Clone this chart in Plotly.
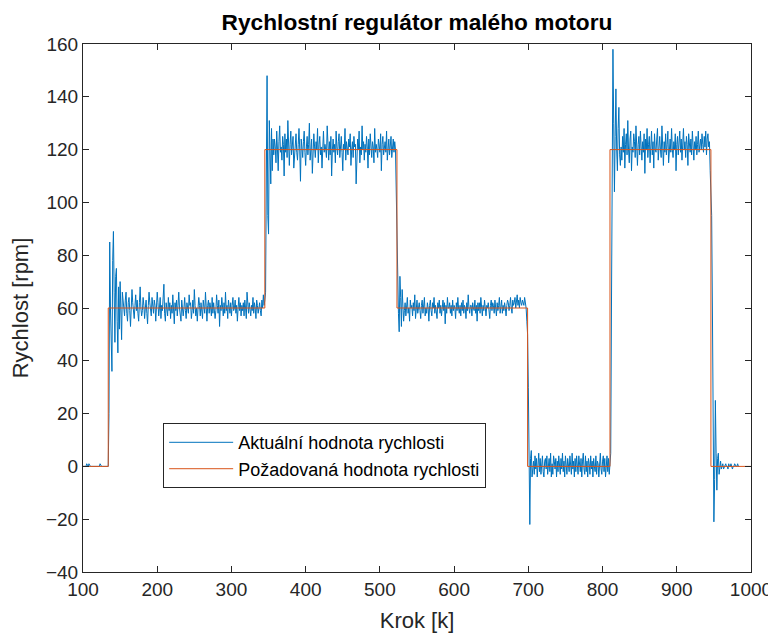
import plotly.graph_objects as go

# ---- data (one value per step) ----
# each segment: first step and the values that follow, one per step
usek_0a_start = 100
usek_0a = [0, 0, 0, 0, 0, 1, 0, 0, 1, 0, 0, 0, 0, 0, 0, 0, 0, 0, 0, 0,
           0, 0, 0, 1, 0, 0, 0, 0, 0, 0, 0, 0, 0, 0, 0]

usek_60a_start = 135
usek_60a = [20, 85, 60, 40, 36, 78, 89, 66, 47, 72, 75, 55, 43, 68, 52, 70, 58, 48, 66, 62,
            61, 57, 63, 66, 58, 55, 62, 64, 59, 53,
            60, 67, 62, 57, 56, 61, 65, 59, 63, 58,
            55, 62, 68, 60, 57, 59, 64, 61, 56, 60,
            63, 58, 54, 61, 66, 62, 59, 57, 64, 60,
            58, 63, 61, 55, 59, 66, 62, 57, 60, 64,
            56, 61, 59, 63, 69, 58, 55, 62, 60, 57,
            64, 59, 62, 56, 61, 58, 65, 60, 54, 62,
            59, 63, 57, 61, 66, 60, 58, 55, 63, 61,
            57, 60, 64, 59, 56, 62, 60, 58, 65, 61,
            62, 56, 59, 63, 58, 67, 61, 57, 60, 55,
            60, 64, 61, 57, 62, 59, 56, 63, 60, 58,
            66, 59, 55, 61, 63, 58, 62, 60, 57, 64,
            58, 62, 60, 56, 59, 65, 61, 58, 63, 53,
            61, 59, 64, 60, 57, 62, 58, 66, 59, 61,
            56, 63, 60, 58, 62, 57, 61, 64, 59, 60,
            63, 58, 61, 55, 60, 64, 59, 62, 57, 61,
            59, 62, 57, 63, 60, 56, 66, 61, 58, 62,
            60, 57, 61, 59, 64, 58, 62, 60, 56, 63,
            61, 58, 60, 62, 59, 57, 63, 60, 65, 61]

usek_120a_start = 345
usek_120a = [63, 66, 110, 148, 95, 88, 131, 115, 107, 128, 112, 124,
             118, 124, 121, 115, 127, 120, 112, 123, 129, 119,
             121, 116, 125, 122, 110, 126, 119, 124, 117, 131,
             120, 114, 122, 127, 118, 121, 125, 113, 119, 123,
             126, 119, 116, 122, 128, 120, 108, 124, 121, 117,
             123, 127, 119, 114, 121, 125, 118, 122, 130, 116,
             120, 124, 111, 119, 126, 121, 117, 123, 120, 128,
             115, 122, 125, 118, 121, 113, 124, 127, 119, 122,
             120, 117, 129, 121, 116, 123, 118, 125, 110, 120,
             124, 119, 122, 115, 127, 121, 118, 123, 126, 117,
             121, 125, 119, 112, 122, 120, 128, 116, 123, 119,
             118, 124, 121, 126, 114, 120, 123, 117, 125, 121,
             122, 107, 119, 124, 120, 127, 115, 121, 118, 129,
             120, 123, 116, 122, 119, 125, 121, 113, 124, 118,
             126, 120, 117, 123, 121, 115, 128, 119, 122, 120,
             117, 124, 121, 119, 126, 112, 122, 125, 118, 121,
             123, 119, 127, 116, 120, 124, 118, 122, 125, 117,
             121, 124, 119, 123, 120,
             102]

usek_60b_start = 523
usek_60b = [95, 76, 58, 51, 72, 64, 53, 67, 60, 55,
            59, 62, 57, 61, 64, 58, 60, 55, 63, 60,
            61, 57, 62, 59, 65, 56, 60, 63, 58, 61,
            62, 59, 56, 61, 63, 58, 60, 64, 57, 60,
            58, 62, 60, 55, 61, 63, 59, 57, 62, 60,
            64, 58, 61, 59, 56, 62, 60, 63, 58, 61,
            57, 60, 63, 59, 62, 54, 61, 58, 64, 60,
            60, 62, 58, 61, 57, 63, 59, 61, 60, 56,
            62, 59, 64, 60, 58, 61, 57, 62, 59, 63,
            58, 61, 60, 56, 62, 59, 65, 60, 58, 61,
            61, 57, 62, 60, 59, 63, 58, 61, 55, 62,
            59, 62, 58, 64, 60, 57, 61, 59, 63, 60,
            57, 61, 60, 62, 58, 56, 61, 63, 59, 62,
            61, 58, 63, 60, 57, 62, 59, 61, 64, 58,
            60, 63, 58, 61, 59, 62, 60, 57, 61, 63,
            62, 59, 61, 64, 60, 58, 63, 61, 62, 64,
            60, 62, 65, 61, 63, 60, 64, 62, 61, 63,
            62, 61, 64,
            62, 60, 55]

usek_0b_start = 699
usek_0b = [50, 30, -5, -22, 3, 6, -4, 2,
           2, -3, 4, -1, 3, -4, 1, 5, -2, 3,
           -3, 1, 4, -2, -4, 2, 3, -1, 4, -3,
           0, 3, -2, 5, -4, 1, -3, 4, 2, -1,
           3, -4, 2, -2, 4, 1, -3, 3, -1, 5,
           -2, 2, -4, 4, 0, -3, 3, 1, -2, 4,
           1, -3, 5, -1, 2, -4, 3, -2, 4, 0,
           -3, 4, 1, -2, 3, -4, 2, 5, -1, -3,
           4, -2, 2, -4, 3, 1, -3, 4, -1, 2,
           -4, 3, 0, -2, 4, -3, 2, 1, -4, 3,
           5, -1, -3, 2, 4, -2, 3, -4, 1, 4,
           -2, 3, -3, 5]

usek_120b_start = 811
usek_120b = [5, 60, 110, 158, 130, 104, 125, 143, 120, 112, 128, 136, 118, 114,
             121, 116, 125, 119, 128, 113, 122, 126, 118, 131,
             120, 115, 124, 127, 112, 121, 119, 126, 123, 117,
             129, 120, 114, 122, 125, 118, 127, 121, 116, 123,
             119, 126, 111, 124, 120, 128, 117, 122, 125, 115,
             121, 127, 118, 123, 113, 126, 120, 119, 124, 128,
             116, 122, 125, 120, 117, 129, 121, 114, 123, 119,
             126, 118, 122, 127, 115, 121, 124, 119, 128, 120,
             117, 123, 120, 126, 112, 122, 125, 118, 121, 127,
             119, 124, 116, 121, 128, 120, 123, 117, 125, 122,
             114, 126, 121, 119, 124, 118, 127, 121, 116, 123,
             120, 125, 118, 122, 127, 119, 121, 124, 120, 126,
             122, 119, 125, 121, 127, 118, 124, 126, 121, 123,
             112, 100]

usek_0c_start = 947
usek_0c = [95, 60, 20, -21, -5, 25, 5, -9, 3, 5,
           -3, 0, 2, -1, 0, 1, -1, 0, 0, 1,
           0, 0, -1, 1, 0, 0, 1, 0, -1, 0,
           0, 1, 0, 0, 0, 1, 0, 0]

pozadovana_krok = [100, 134, 345, 523, 699, 810, 946, 1000]
pozadovana_hodnota = [0, 60, 120, 60, 0, 120, 0, 0]

x_ticks = [100, 200, 300, 400, 500, 600, 700, 800, 900, 1000]
y_ticks = [-40, -20, 0, 20, 40, 60, 80, 100, 120, 140, 160]

# ---- assemble actual series ----
useky = [(usek_0a_start, usek_0a), (usek_60a_start, usek_60a),
         (usek_120a_start, usek_120a), (usek_60b_start, usek_60b),
         (usek_0b_start, usek_0b), (usek_120b_start, usek_120b),
         (usek_0c_start, usek_0c)]
krok_akt, hodnota_akt = [], []
for start, usek in useky:
    for i, v in enumerate(usek):
        k = start + i
        if krok_akt and k <= krok_akt[-1]:
            continue
        krok_akt.append(k)
        hodnota_akt.append(v)

FONT = "Liberation Sans, Arial, Helvetica, sans-serif"
AX = "#262626"

# page body has an 8 px margin; figure is sized/placed to compensate
W, H = 768, 626

fig = go.Figure()
fig.add_trace(go.Scatter(x=krok_akt, y=hodnota_akt, mode="lines",
                         line=dict(color="#0072BD", width=1),
                         name="Aktuální hodnota rychlosti"))
fig.add_trace(go.Scatter(x=pozadovana_krok, y=pozadovana_hodnota, mode="lines",
                         line=dict(color="#D95319", width=1, shape="hv"),
                         name="Požadovaná hodnota rychlosti"))

axis_common = dict(showgrid=False, zeroline=False, showline=True, linecolor=AX,
                   linewidth=1, mirror="ticks", ticks="inside", ticklen=6,
                   tickcolor=AX, automargin=False,
                   tickfont=dict(family=FONT, size=19, color=AX))

fig.update_layout(
    width=W, height=H,
    margin=dict(l=75, r=25, t=36, b=62),
    plot_bgcolor="white", paper_bgcolor="white",
    title=dict(text="<b>Rychlostní regulátor malého motoru</b>",
               x=(75 + 743) / 2 / W, xanchor="center", y=1 - 14 / H, yanchor="middle",
               font=dict(family=FONT, size=22.7, color="black")),
    xaxis=dict(range=[100, 1000], tickvals=x_ticks,
               title=dict(text="Krok [k]", font=dict(family=FONT, size=22, color=AX), standoff=13),
               **axis_common),
    yaxis=dict(range=[-40, 160], tickvals=y_ticks,
               title=dict(text="Rychlost [rpm]", font=dict(family=FONT, size=22, color=AX), standoff=14),
               **axis_common),
    legend=dict(x=0.12, y=0.282, xanchor="left", yanchor="top",
                bgcolor="white", bordercolor=AX, borderwidth=1,
                font=dict(family=FONT, size=18, color="black"),
                itemwidth=64, tracegroupgap=0),
    showlegend=True,
)

fig.write_html("out.html")
